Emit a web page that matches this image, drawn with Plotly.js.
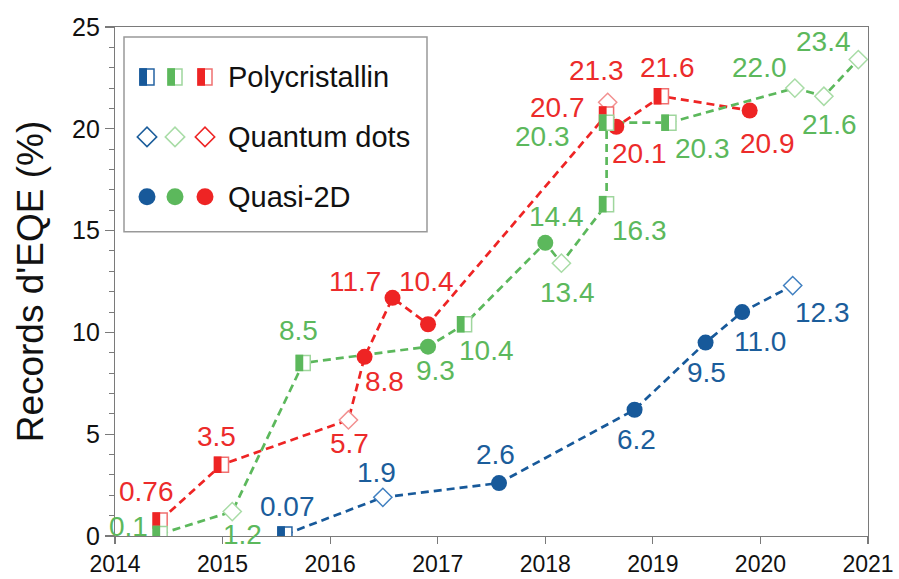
<!DOCTYPE html>
<html>
<head>
<meta charset="utf-8">
<script src="https://cdn.plot.ly/plotly-3.0.1.min.js"></script>
<style>html,body{margin:0;padding:0;background:#fff;}#chart{width:899px;height:579px;}</style>
</head>
<body>
<div id="chart"></div>
<script>
// ---------- DATA ----------
const blueYears = [2015.58, 2016.49, 2017.57, 2018.83, 2019.49, 2019.83, 2020.30];
const blueEQE   = [0.07, 1.9, 2.6, 6.2, 9.5, 11.0, 12.3];
const blueType  = ['poly', 'qd', 'q2d', 'q2d', 'q2d', 'q2d', 'qd'];
const blueText  = ['0.07', '1.9', '2.6', '6.2', '9.5', '11.0', '12.3'];

const greenYears = [2014.42, 2015.09, 2015.75, 2016.91, 2017.25, 2018.00, 2018.15, 2018.57, 2018.57, 2019.15, 2020.32, 2020.59, 2020.91];
const greenEQE   = [0.1, 1.2, 8.5, 9.3, 10.4, 14.4, 13.4, 16.3, 20.3, 20.3, 22.0, 21.6, 23.4];
const greenType  = ['poly', 'qd', 'poly', 'q2d', 'poly', 'q2d', 'qd', 'poly', 'poly', 'poly', 'qd', 'qd', 'qd'];
const greenText  = ['0.1', '1.2', '8.5', '9.3', '10.4', '14.4', '13.4', '16.3', '20.3', '20.3', '22.0', '21.6', '23.4'];

const redYears = [2014.42, 2014.99, 2016.17, 2016.32, 2016.58, 2016.91, 2018.57, 2018.58, 2018.66, 2019.08, 2019.90];
const redEQE   = [0.76, 3.5, 5.7, 8.8, 11.7, 10.4, 20.7, 21.3, 20.1, 21.6, 20.9];
const redType  = ['poly', 'poly', 'qd', 'q2d', 'q2d', 'q2d', 'poly', 'qd', 'q2d', 'poly', 'q2d'];
const redText  = ['0.76', '3.5', '5.7', '8.8', '11.7', '10.4', '20.7', '21.3', '20.1', '21.6', '20.9'];

const xTicks = [2014, 2015, 2016, 2017, 2018, 2019, 2020, 2021];
const legendNames = ['Polycristallin', 'Quantum dots', 'Quasi-2D'];
const yTitle = "Records d'EQE (%)";

// ---------- STYLE (label offsets in px: [dx, dy-up]) ----------
const blueOff  = [[3,28],[-6,25],[-4,29],[2,-30],[1,-30],[18,-29],[30,-27]];
const greenOff = [[-32,7],[10,-23],[-5,32],[7,-24],[22,-26],[11,26],[6,-29],[33,-26],[-64,-14],[34,-26],[-35,21],[6,-28],[-35,18]];
const redOff   = [[-14,29],[-5,28],[1,-24],[20,-25],[-38,16],[-2,43],[-49,7],[-11,32],[23,-27],[6,29],[18,-33]];

const FONT = 'Liberation Sans, Arial, Helvetica, sans-serif';
const blueS = {x: blueYears, y: blueEQE, t: blueType, txt: blueText, off: blueOff,
   main: '#17599a', light: '#3f7fc0', open: '#2563a3', text: '#1b5d9b', legDia: '#1b5d9b'};
const redS = {x: redYears, y: redEQE, t: redType, txt: redText, off: redOff,
   main: '#ee2424', light: '#f29090', open: '#f07070', text: '#ec2b2b', legDia: '#ee2424'};
const greenS = {x: greenYears, y: greenEQE, t: greenType, txt: greenText, off: greenOff,
   main: '#5cb85c', light: '#a8dca6', open: '#9fd69d', text: '#5cb85c', legDia: '#a8dca6'};
const series = [blueS, redS, greenS];      // drawing order
const legendOrder = [blueS, greenS, redS];  // legend order

const traces = [];
const shapes = [];
const annotations = [];

function halfSquare(xref, yref, xa, ya, dark, outline, hw, hh) {
  shapes.push({type: 'rect', xref: xref, yref: yref, xsizemode: 'pixel', ysizemode: 'pixel',
    xanchor: xa, yanchor: ya, x0: -hw, x1: hw, y0: -hh, y1: hh,
    fillcolor: '#ffffff', line: {color: outline, width: 1.5}, layer: 'above'});
  shapes.push({type: 'rect', xref: xref, yref: yref, xsizemode: 'pixel', ysizemode: 'pixel',
    xanchor: xa, yanchor: ya, x0: -hw - 0.75, x1: 0, y0: -hh - 0.75, y1: hh + 0.75,
    fillcolor: dark, line: {width: 0}, layer: 'above'});
}

// dashed lines
series.forEach(s => {
  traces.push({type: 'scatter', mode: 'lines', x: s.x, y: s.y, hoverinfo: 'skip',
    line: {color: s.main, width: 2.7, dash: '8px,5px'}, showlegend: false});
});
// markers
series.forEach(s => {
  const cx = [], cy = [], dx = [], dy = [];
  s.x.forEach((xv, i) => {
    if (s.t[i] === 'q2d') { cx.push(xv); cy.push(s.y[i]); }
    else if (s.t[i] === 'qd') { dx.push(xv); dy.push(s.y[i]); }
    else { halfSquare('x', 'y', xv, s.y[i], s.main, s.open, 7, 7.5); }
  });
  traces.push({type: 'scatter', mode: 'markers', x: cx, y: cy, showlegend: false,
    marker: {symbol: 'circle', size: 16, color: s.main, line: {width: 0}}});
  traces.push({type: 'scatter', mode: 'markers', x: dx, y: dy, showlegend: false,
    marker: {symbol: 'diamond', size: 14, color: '#ffffff', line: {width: 1.5, color: s.light}}});
  s.x.forEach((xv, i) => {
    annotations.push({x: xv, y: s.y[i], xref: 'x', yref: 'y', text: s.txt[i], showarrow: false,
      xshift: s.off[i][0], yshift: s.off[i][1], xanchor: 'center', yanchor: 'middle',
      font: {family: FONT, size: 28, color: s.text}});
  });
});

// legend (drawn on an overlay axis measured in page pixels)
shapes.push({type: 'rect', xref: 'x2', yref: 'y2', x0: 124, x1: 427, y0: 37, y1: 232,
  fillcolor: '#ffffff', line: {color: '#999999', width: 1.5}, layer: 'below'});
const legX = [147, 175, 205];
const legY = [77, 137, 197];
legendOrder.forEach((s, k) => {
  halfSquare('x2', 'y2', legX[k], legY[0], s.main, s.open, 7, 8);
});
traces.push({type: 'scatter', mode: 'markers', xaxis: 'x2', yaxis: 'y2', showlegend: false,
  x: legX, y: [legY[1], legY[1], legY[1]],
  marker: {symbol: 'diamond', size: 15, color: '#ffffff', line: {width: 1.5, color: legendOrder.map(s => s.legDia)}}});
traces.push({type: 'scatter', mode: 'markers', xaxis: 'x2', yaxis: 'y2', showlegend: false,
  x: legX, y: [legY[2], legY[2], legY[2]],
  marker: {symbol: 'circle', size: 17, color: legendOrder.map(s => s.main)}});
legendNames.forEach((n, k) => {
  annotations.push({x: 226, y: legY[k], xref: 'x2', yref: 'y2', text: n, showarrow: false,
    xanchor: 'left', yanchor: 'middle', font: {family: FONT, size: 29, color: '#111111'}});
});

const layout = {
  width: 899, height: 579,
  margin: {l: 115, r: 31, t: 27, b: 43, pad: 0},
  paper_bgcolor: '#ffffff', plot_bgcolor: '#ffffff',
  font: {family: FONT, color: '#111111'},
  showlegend: false,
  xaxis: {range: [2014, 2021], tickvals: xTicks, ticktext: xTicks.map(String),
    showgrid: false, zeroline: false, showline: true, mirror: true,
    linecolor: '#7a7a7a', linewidth: 1.2, ticks: 'outside', ticklen: 7, tickwidth: 1.2, tickcolor: '#7a7a7a',
    tickfont: {family: FONT, size: 23, color: '#111111'}},
  yaxis: {range: [0, 25], dtick: 5, tick0: 0,
    showgrid: false, zeroline: false, showline: true, mirror: true,
    linecolor: '#7a7a7a', linewidth: 1.2, ticks: 'outside', ticklen: 9, tickwidth: 1.2, tickcolor: '#7a7a7a',
    minor: {dtick: 1, ticks: 'outside', ticklen: 5, tickcolor: '#7a7a7a', tickwidth: 1, showgrid: false},
    tickfont: {family: FONT, size: 25, color: '#111111'},
    title: {text: yTitle, font: {family: FONT, size: 37, color: '#111111'}, standoff: 17}},
  xaxis2: {overlaying: 'x', range: [115, 868], visible: false, fixedrange: true, anchor: 'y2'},
  yaxis2: {overlaying: 'y', range: [536.5, 27], visible: false, fixedrange: true, anchor: 'x2'},
  shapes: shapes,
  annotations: annotations
};

Plotly.newPlot('chart', traces, layout, {displayModeBar: false, staticPlot: true});
</script>
</body>
</html>
